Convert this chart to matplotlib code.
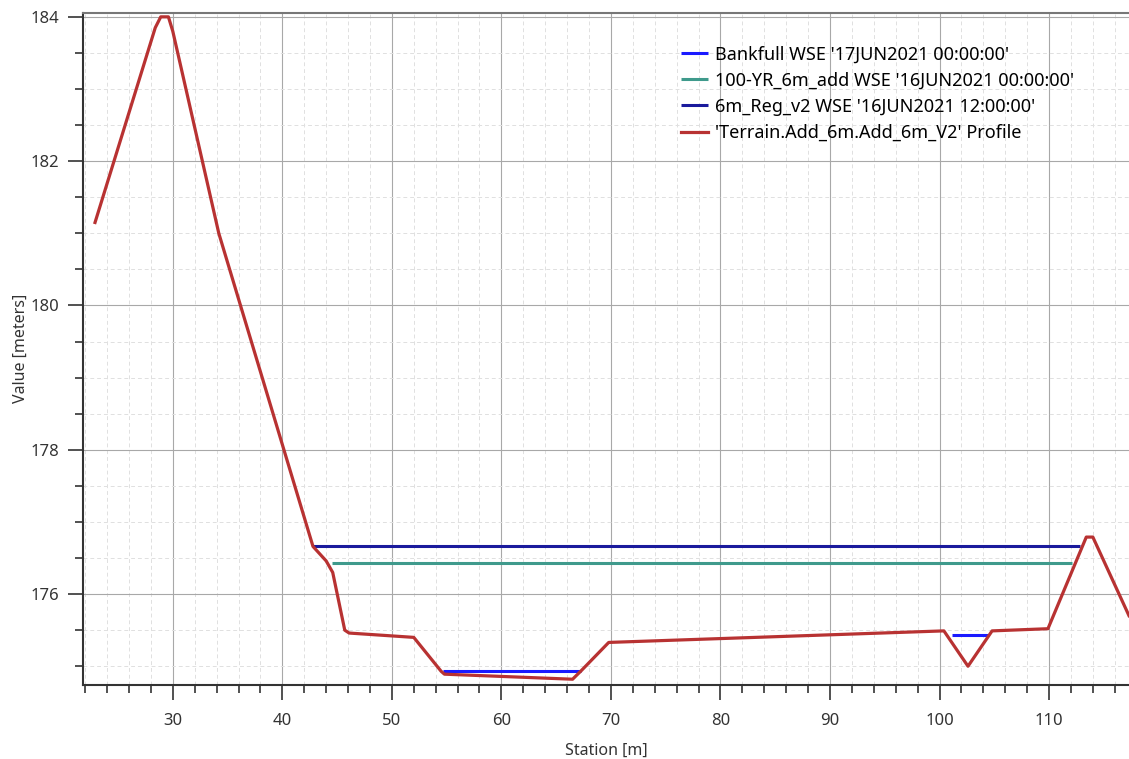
import matplotlib.pyplot as plt
from matplotlib.ticker import MultipleLocator

plt.rcParams['font.family'] = ['Noto Sans', 'DejaVu Sans']

# terrain profile (station, elevation)
terrain_x = [22.9, 28.4, 28.9, 29.6, 30.0, 34.2, 42.8, 44.0, 44.6, 45.7, 46.1,
             52.0, 54.5, 54.8, 66.5, 67.3, 69.8, 100.4, 102.6, 104.8, 109.9,
             113.4, 114.0, 117.3]
terrain_y = [181.15, 183.85, 184.0, 184.0, 183.8, 181.0, 176.66, 176.46, 176.3,
             175.5, 175.46, 175.40, 174.93, 174.89, 174.82, 174.94, 175.33,
             175.49, 175.0, 175.49, 175.52, 176.79, 176.79, 175.7]

# water surfaces: segments of (x_start, x_end, elevation)
bankfull_segments = [(54.7, 67.3, 174.94), (101.1, 104.4, 175.43)]
yr100_segments = [(44.5, 112.1, 176.43)]
reg_segments = [(42.8, 112.8, 176.66)]

labels = ["Bankfull WSE '17JUN2021 00:00:00'",
          "100-YR_6m_add WSE '16JUN2021 00:00:00'",
          "6m_Reg_v2 WSE '16JUN2021 12:00:00'",
          "'Terrain.Add_6m.Add_6m_V2' Profile"]
colors = ['#1a1aff', '#3f9a8c', '#1a1a9c', '#b83232']

fig = plt.figure(figsize=(11.29, 7.59), dpi=100)
ax = fig.add_axes([0.0735, 0.0975, 0.9265, 0.886])

for segs, lab, col in zip([bankfull_segments, yr100_segments, reg_segments], labels[:3], colors[:3]):
    for i, (x0, x1, y) in enumerate(segs):
        ax.plot([x0, x1], [y, y], color=col, lw=2.2, label=lab if i == 0 else None,
                solid_capstyle='butt')
ax.plot(terrain_x, terrain_y, color=colors[3], lw=2.3, label=labels[3],
        solid_joinstyle='round')

ax.set_xlim(21.8, 117.3)
ax.set_ylim(174.74, 184.06)
ax.xaxis.set_major_locator(MultipleLocator(10))
ax.xaxis.set_minor_locator(MultipleLocator(2))
ax.yaxis.set_major_locator(MultipleLocator(2))
ax.yaxis.set_minor_locator(MultipleLocator(0.5))
ax.grid(which='major', color='#a8a8a8', lw=0.8)
ax.grid(which='minor', color='#e0e0e0', lw=0.7, ls=(0, (4, 3)))
ax.set_axisbelow(True)
ax.tick_params(which='major', direction='out', length=11, width=1.2, labelsize=12,
               colors='#333333', pad=6)
ax.tick_params(which='minor', direction='out', length=6, width=1.2, colors='#333333')
ax.tick_params(axis='x', which='major', pad=9)
for s in ['left', 'bottom']:
    ax.spines[s].set_color('#333333')
    ax.spines[s].set_linewidth(1.5)
ax.spines['top'].set_color('#777777')
ax.spines['top'].set_linewidth(1.5)
ax.spines['right'].set_visible(False)

ax.set_xlabel('Station [m]', fontsize=11.5, color='#333333', labelpad=10)
ax.set_ylabel('Value [meters]', fontsize=11.5, color='#333333', labelpad=1)

ax.legend(loc='upper left', bbox_to_anchor=(0.572, 0.951), frameon=False, fontsize=13,
          handlelength=1.5, handletextpad=0.35, labelspacing=0.45, borderaxespad=0,
          borderpad=0)

fig.savefig('out.png', dpi=100)
